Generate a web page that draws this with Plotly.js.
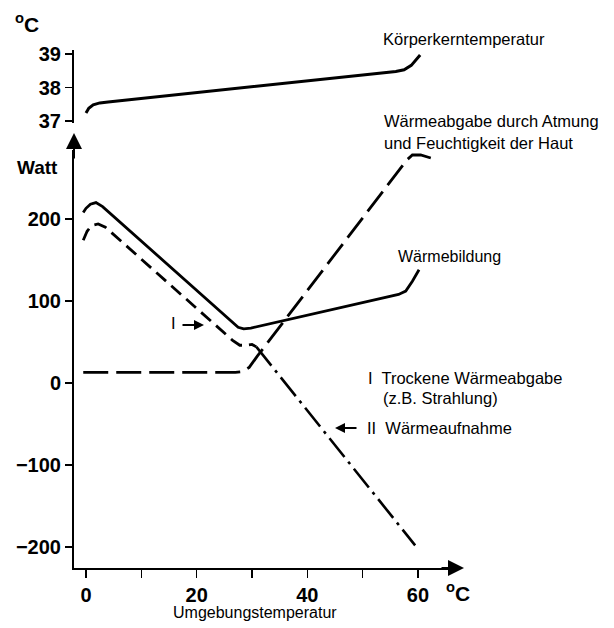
<!DOCTYPE html>
<html>
<head>
<meta charset="utf-8">
<script src="https://cdn.plot.ly/plotly-3.0.1.min.js"></script>
<style>html,body{margin:0;padding:0;background:#fff;}#chart{width:614px;height:628px;}</style>
</head>
<body>
<div id="chart"></div>
<script>
// ---- data ----
const coreX = [0, 0.5, 1.3, 2.5, 4, 56, 57.5, 58.8, 60.4];
const coreT = [37.24, 37.38, 37.48, 37.54, 37.57, 38.48, 38.53, 38.66, 38.97];

const bildX = [-0.5, 0, 0.8, 1.8, 3, 26.5, 27.5, 28.5, 29.8, 56.5, 57.8, 59, 60.2];
const bildW = [208, 213, 218, 220, 215, 73, 68, 66, 67, 108, 112, 124, 138];

const trockenX = [-0.5, 0.2, 1, 2.2, 3.5, 26.5, 27.8, 29, 30, 30.8];
const trockenW = [174, 185, 192, 194, 190, 52, 46, 46, 47, 44];

const aufnahmeX = [30.8, 59.5];
const aufnahmeW = [44, -198];

const atmungX = [-0.5, 27, 28.3, 29.5, 31, 58, 59, 60.5, 63];
const atmungW = [13, 13, 14, 19, 33, 272, 278, 278, 273];

const xTickVals = [0, 10, 20, 30, 40, 50, 60];
const xTickText = ['0', '', '20', '', '40', '', '60'];
const wTickVals = [-200, -100, 0, 100, 200];
const tTickVals = [37, 38, 39];

// ---- layout helpers ----
const W = 614, H = 628;
const FONT = 'Liberation Sans, Arial, sans-serif';
function P(px, py) { return {xref: 'paper', yref: 'paper', x: px / W, y: 1 - py / H}; }
function txt(px, py, text, size, opts) {
  return Object.assign(P(px, py), {text: text, showarrow: false,
    font: Object.assign({family: FONT, size: size, color: '#000'}, (opts && opts.font) || {}),
    xanchor: (opts && opts.xanchor) || 'left', yanchor: 'middle'});
}
function arrow(tipx, tipy, tailx, taily, width, size) {
  return Object.assign(P(tipx, tipy), {text: '', showarrow: true, arrowhead: 2,
    arrowsize: size, arrowwidth: width, arrowcolor: '#000',
    axref: 'pixel', ayref: 'pixel', ax: tailx - tipx, ay: taily - tipy});
}

const lineBase = {mode: 'lines', hoverinfo: 'skip', showlegend: false};
const traces = [
  Object.assign({}, lineBase, {x: coreX, y: coreT, xaxis: 'x', yaxis: 'y2',
    line: {color: '#000', width: 3}}),
  Object.assign({}, lineBase, {x: bildX, y: bildW, line: {color: '#000', width: 2.8}}),
  Object.assign({}, lineBase, {x: trockenX, y: trockenW, line: {color: '#000', width: 2.8, dash: '13px,7px'}}),
  Object.assign({}, lineBase, {x: aufnahmeX, y: aufnahmeW, line: {color: '#000', width: 2.6, dash: '24px,6px,3px,6px'}}),
  Object.assign({}, lineBase, {x: atmungX, y: atmungW, line: {color: '#000', width: 2.8, dash: '25px,8px'}})
];

const tickFont = {family: FONT, size: 20, color: '#000', weight: 'bold'};
const layout = {
  width: W, height: H,
  margin: {l: 0, r: 0, t: 0, b: 0, pad: 0},
  paper_bgcolor: '#fff', plot_bgcolor: 'rgba(0,0,0,0)',
  showlegend: false,
  xaxis: {domain: [74 / W, 450 / W], range: [-2.17, 65.8], anchor: 'y',
    showgrid: false, zeroline: false, showline: true, linecolor: '#000', linewidth: 2,
    ticks: 'outside', ticklen: 8, tickwidth: 1.5, tickcolor: '#000',
    tickvals: xTickVals, ticktext: xTickText, tickfont: tickFont},
  yaxis: {domain: [1 - 568 / H, 1 - 150 / H], range: [-225.6, 284.1], anchor: 'x',
    showgrid: false, zeroline: false, showline: true, linecolor: '#000', linewidth: 2,
    ticks: 'outside', ticklen: 7, tickwidth: 1.5, tickcolor: '#000',
    tickvals: wTickVals, tickfont: tickFont},
  yaxis2: {domain: [1 - 123 / H, 1 - 50 / H], range: [36.94, 39.12], anchor: 'x',
    showgrid: false, zeroline: false, showline: true, linecolor: '#000', linewidth: 2,
    ticks: 'outside', ticklen: 7, tickwidth: 1.5, tickcolor: '#000',
    tickvals: tTickVals, tickfont: tickFont},
  annotations: [
    arrow(74, 133, 74, 160, 2, 1.6),
    arrow(464, 568, 440, 568, 2, 1.6),
    txt(27, 23, '<sup>o</sup>C', 21, {xanchor: 'center', font: {weight: 'bold'}}),
    txt(37, 167, 'Watt', 19, {xanchor: 'center', font: {weight: 'bold'}}),
    txt(458, 592, '<sup>o</sup>C', 21, {xanchor: 'center', font: {weight: 'bold'}}),
    txt(255, 612, 'Umgebungstemperatur', 16, {xanchor: 'center'}),
    txt(381, 39, 'Körperkerntemperatur', 16.5),
    txt(382, 121, 'Wärmeabgabe durch Atmung', 16.5),
    txt(382, 143, 'und Feuchtigkeit der Haut', 16.5),
    txt(396, 256, 'Wärmebildung', 16),
    txt(173, 323, 'I', 16.5, {xanchor: 'center'}),
    arrow(204, 325, 181, 325, 2, 1),
    txt(366, 378, 'I  Trockene Wärmeabgabe', 16.5),
    txt(381, 398, '(z.B. Strahlung)', 16.5),
    txt(365, 428, 'II  Wärmeaufnahme', 16.5),
    arrow(335, 428, 358, 428, 2, 1)
  ]
};

Plotly.newPlot('chart', traces, layout, {staticPlot: true, displayModeBar: false});
</script>
</body>
</html>
